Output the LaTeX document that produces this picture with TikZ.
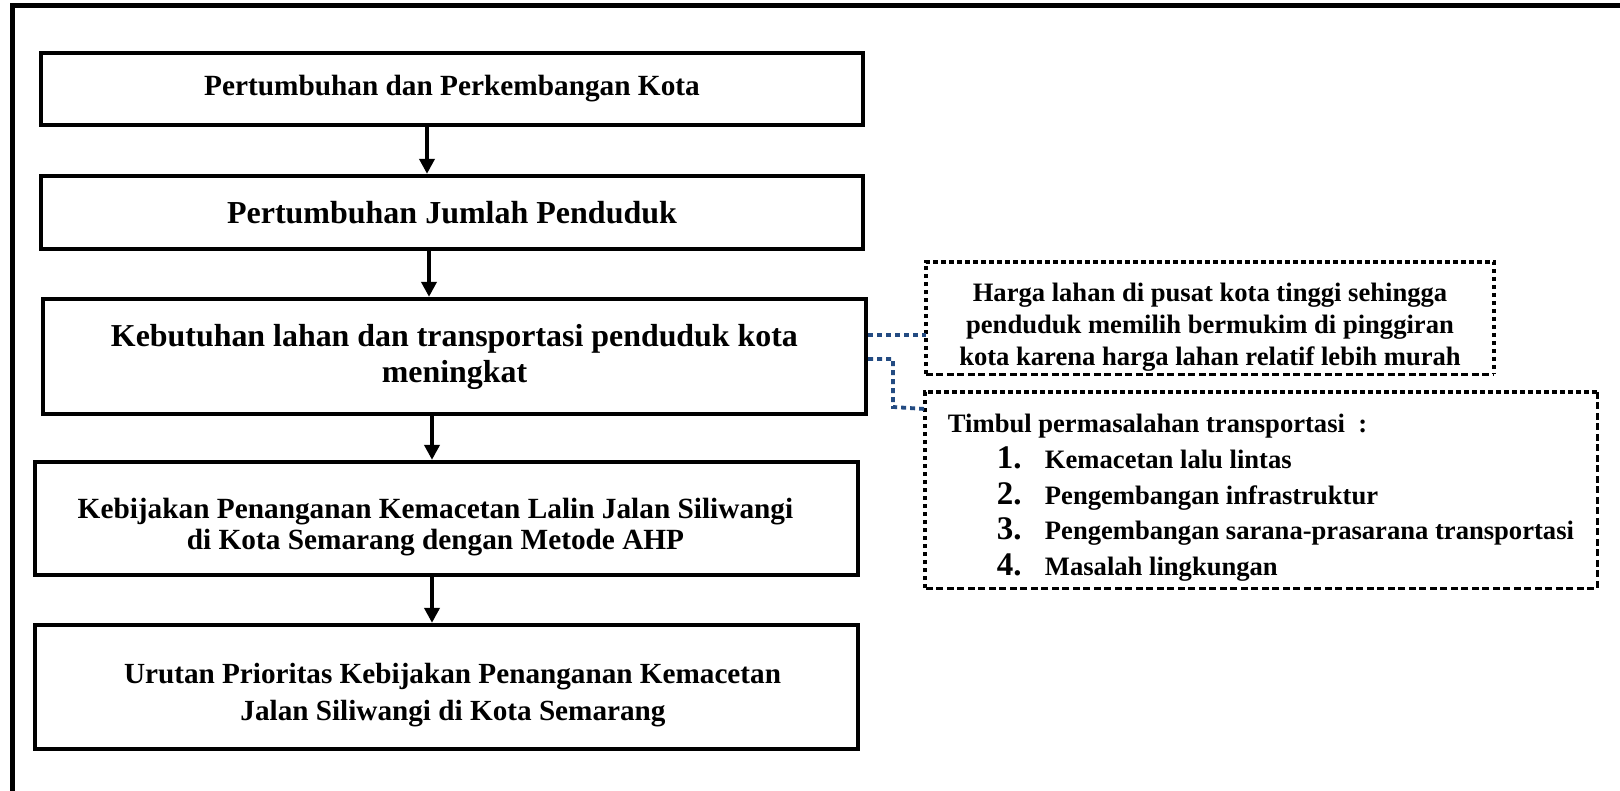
\documentclass[tikz,border=0pt]{standalone}
\usepackage{fontspec}
\setmainfont{Liberation Serif}
\usepackage{tikz}
\usetikzlibrary{arrows.meta}
\definecolor{linkblue}{RGB}{35,75,130}

\begin{document}
\begin{tikzpicture}[
  x=1pt, y=-1pt,
  flow/.style={draw, line width=4.3pt, inner sep=0pt, align=center},
  note/.style={inner sep=0pt, font=\bfseries\fontsize{26.6}{32}\selectfont},
  sqdot/.style={line width=4.5pt, dash pattern=on 4.5pt off 3.5pt},
  thindash/.style={line width=2.7pt, dash pattern=on 7pt off 3.5pt},
  arr/.style={line width=4pt, -{Triangle[length=15pt,width=15pt]}},
  link/.style={draw=linkblue, line width=3.8pt, dash pattern=on 5pt off 4pt}
]
\useasboundingbox (0,0) rectangle (1620,791);
% ---- frame ------------------------------------------------------------------
\draw[line width=5pt] (12.5,5.5) rectangle (1700,900);

% ---- main column ------------------------------------------------------------
\node[flow, minimum width=822pt, minimum height=72pt,
  font=\bfseries\fontsize{29.3}{32}\selectfont] (grow) at (452,89)
  {Pertumbuhan dan Perkembangan Kota};
\node[flow, minimum width=822pt, minimum height=73pt,
  font=\bfseries\fontsize{32}{36}\selectfont] (pop) at (452,212.5)
  {Pertumbuhan Jumlah Penduduk};
\node[flow, minimum width=823pt, minimum height=115pt,
  font=\bfseries\fontsize{31.9}{36}\selectfont] (need) at (454.5,356.5)
  {Kebutuhan lahan dan transportasi penduduk kota\\ meningkat};
\node[flow, minimum width=823pt, minimum height=113pt,
  font=\bfseries\fontsize{29.3}{31.5}\selectfont] (policy) at (446.5,518.5)
  {\rule{0pt}{37pt}Kebijakan Penanganan Kemacetan Lalin Jalan Siliwangi\hspace*{22pt}\\
   di Kota Semarang dengan Metode AHP\hspace*{22pt}};
\node[flow, minimum width=823pt, minimum height=124pt,
  font=\bfseries\fontsize{29.2}{37.5}\selectfont] (prio) at (446.5,687)
  {\rule{0pt}{36pt}\hspace*{12pt}Urutan Prioritas Kebijakan Penanganan Kemacetan\\
   \hspace*{13pt}Jalan Siliwangi di Kota Semarang};

% ---- side notes -------------------------------------------------------------
\node[note, align=center, minimum width=568pt, minimum height=112pt] (land) at (1210,318)
  {\rule{0pt}{37pt}Harga lahan di pusat kota tinggi sehingga\\
   penduduk memilih bermukim di pinggiran\\
   kota karena harga lahan relatif lebih murah};
\node[note, align=left, minimum width=672pt, minimum height=196pt,
  font=\bfseries\fontsize{26.6}{35.6}\selectfont] (issue) at (1261,490)
  {\rule{0pt}{34pt}Timbul permasalahan transportasi~~:\\
   \hspace*{49pt}\makebox[48pt][l]{\fontsize{33}{35.6}\selectfont 1.}Kemacetan lalu lintas\\
   \hspace*{49pt}\makebox[48pt][l]{\fontsize{33}{35.6}\selectfont 2.}Pengembangan infrastruktur\\
   \hspace*{49pt}\makebox[48pt][l]{\fontsize{33}{35.6}\selectfont 3.}Pengembangan sarana-prasarana transportasi\\
   \hspace*{49pt}\makebox[48pt][l]{\fontsize{33}{35.6}\selectfont 4.}Masalah lingkungan};

\draw[sqdot] (land.south west) -- (land.north west) -- (land.north east) -- (land.south east);
\draw[thindash] (land.south west) -- (land.south east);
\draw[sqdot] (issue.south west) -- (issue.north west) -- (issue.north east);
\draw[thindash] (issue.north east) -- (issue.south east) -- (issue.south west);

% ---- arrows -----------------------------------------------------------------
\draw[arr] ([xshift=-25pt]grow.south) -- ([xshift=-25pt]pop.north);
\draw[arr] ([xshift=-23pt]pop.south) -- ([xshift=-23pt]pop.south |- need.north);
\draw[arr] ([xshift=-22.5pt]need.south) -- ([xshift=-22.5pt]need.south |- policy.north);
\draw[arr] ([xshift=-14.5pt]policy.south) -- ([xshift=-14.5pt]prio.north);

% ---- dotted links -----------------------------------------------------------
\draw[link] (need.east |- 0,335) -- (land.west |- 0,335);
\draw[link] (need.east |- 0,359) -| (893,407) -- (issue.west |- 0,409);
\end{tikzpicture}
\end{document}
